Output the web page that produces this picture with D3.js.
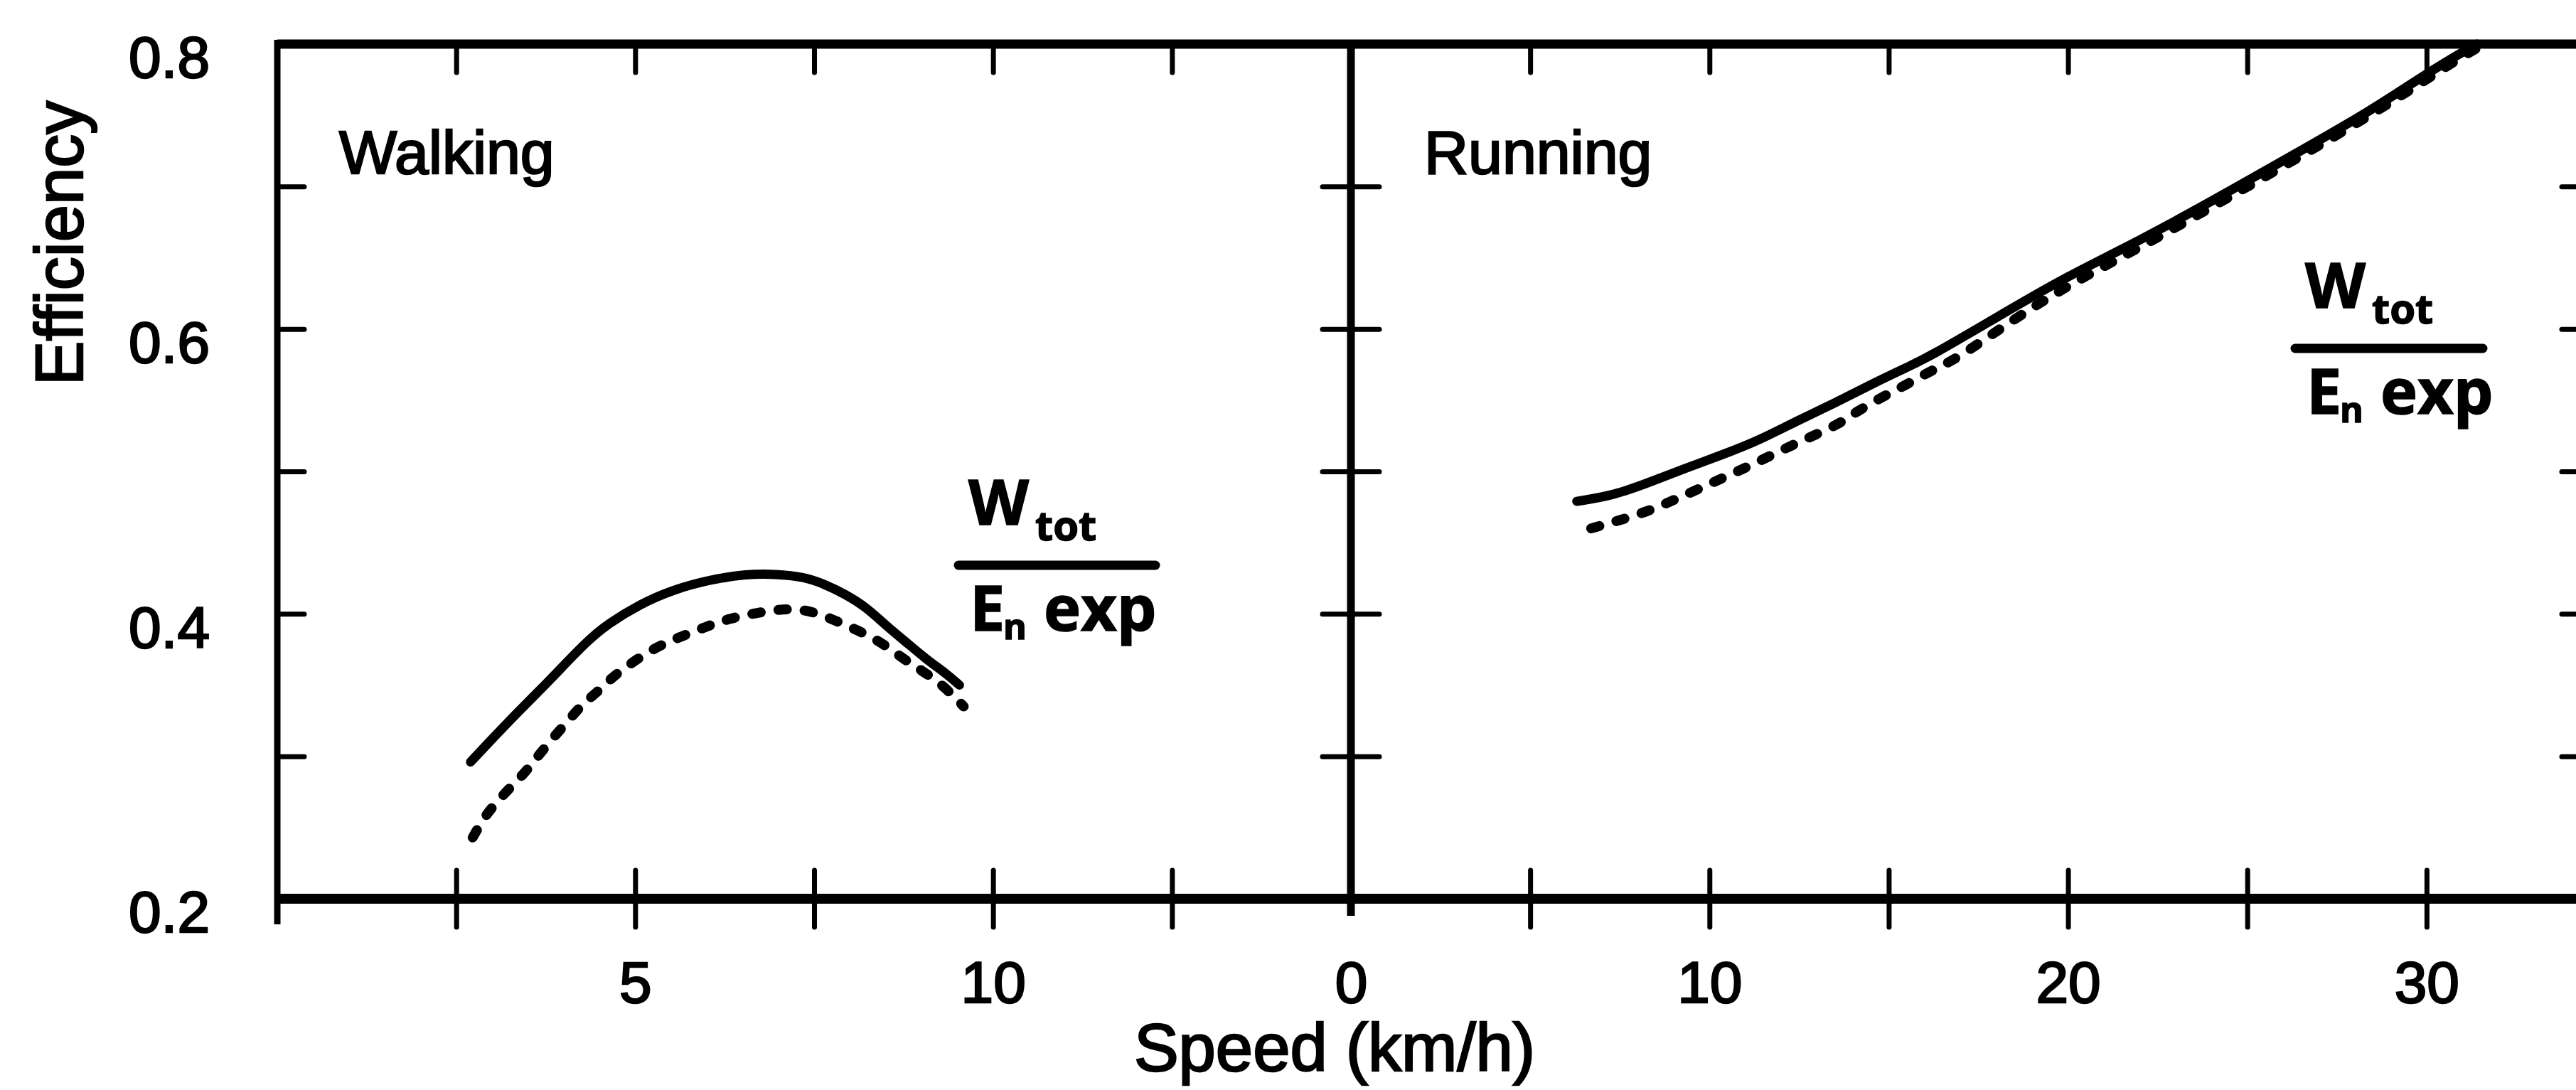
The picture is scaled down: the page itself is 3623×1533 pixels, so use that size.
<!DOCTYPE html>
<html>
<head>
<meta charset="utf-8">
<script src="https://cdn.jsdelivr.net/npm/d3@7"></script>
<style>
  html, body { margin: 0; padding: 0; background: #fff; }
  svg { display: block; }
  .lbl { font-family: "Liberation Sans", Arial, Helvetica, sans-serif; fill: #000; stroke: #000; stroke-width: 2.5; }
  .frac { font-family: "Open Sans", "DejaVu Sans", sans-serif; font-weight: 700; fill: #000; stroke: #000; stroke-width: 1.5; }
</style>
</head>
<body>
<svg id="chart" width="3623" height="1533"></svg>
<script>
// ---- Walking: efficiency vs speed (km/h) ----
const walkSpeedSolid = [2.70, 2.96, 3.36, 3.70, 3.93, 4.33, 4.62, 5.07, 5.53, 6.04, 6.56, 6.96, 7.36, 7.64, 7.93, 8.22, 8.50, 8.79, 9.07, 9.35, 9.53];
const walkEffSolid   = [0.296, 0.310, 0.331, 0.348, 0.360, 0.381, 0.393, 0.407, 0.417, 0.424, 0.428, 0.428, 0.426, 0.421, 0.414, 0.405, 0.392, 0.380, 0.368, 0.358, 0.350];

const walkSpeedDashed = [2.73, 2.90, 3.07, 3.27, 3.47, 3.64, 3.87, 4.10, 4.27, 4.47, 4.67, 4.90, 5.30, 5.64, 5.99, 6.33, 6.73, 7.13, 7.47, 7.81, 8.13, 8.44, 8.73, 9.01, 9.30, 9.59];
const walkEffDashed   = [0.243, 0.258, 0.268, 0.279, 0.289, 0.300, 0.314, 0.327, 0.337, 0.345, 0.355, 0.364, 0.377, 0.384, 0.391, 0.397, 0.401, 0.404, 0.402, 0.395, 0.388, 0.380, 0.369, 0.360, 0.350, 0.335];

// ---- Running: efficiency vs speed (km/h) ----
const runSpeedSolid = [6.3, 7.3, 8.3, 9.3, 10.4, 11.4, 12.4, 13.5, 14.5, 15.5, 16.1, 18.2, 19.9, 22.0, 24.1, 26.2, 28.3, 29.8, 30.9, 31.4];
const runEffSolid   = [0.479, 0.483, 0.492, 0.502, 0.512, 0.522, 0.535, 0.548, 0.561, 0.573, 0.580, 0.611, 0.636, 0.662, 0.691, 0.721, 0.751, 0.776, 0.793, 0.800];

const runSpeedDashed = [6.7, 7.4, 8.3, 9.1, 9.9, 10.6, 11.3, 12.1, 12.8, 13.6, 14.1, 14.8, 15.5, 16.2, 16.9, 18.2, 20.0, 22.0, 24.1, 26.2, 28.3, 29.8, 30.9, 31.6];
const runEffDashed   = [0.460, 0.465, 0.472, 0.481, 0.490, 0.498, 0.506, 0.516, 0.524, 0.533, 0.542, 0.552, 0.561, 0.571, 0.579, 0.602, 0.631, 0.657, 0.687, 0.717, 0.748, 0.772, 0.790, 0.800];

// ---- Ticks and labels ----
const walkTicks = [2.5, 5, 7.5, 10, 12.5];
const walkTickLabels = [5, 10];
const runTicks = [0, 5, 10, 15, 20, 25, 30];
const runTickLabels = [0, 10, 20, 30];
const effTicks = [0.3, 0.4, 0.5, 0.6, 0.7];
const effTickLabels = [0.2, 0.4, 0.6, 0.8];
const panelTitles = ["Walking", "Running"];
const xTitle = "Speed (km/h)";
const yTitle = "Efficiency";

const W = 3623, H = 1533;
const svg = d3.select("#chart");
svg.append("rect").attr("width", W).attr("height", H).attr("fill", "#fff");

const y = d3.scaleLinear().domain([0.2, 0.8]).range([1264, 62]);
const xWalk = d3.scaleLinear().domain([0, 15]).range([390, 1900]);
const xRun = d3.scaleLinear().domain([0, 35]).range([1900, 3665]);
const yTop = y(0.8), yBot = y(0.2);

function clean(g) {
  g.attr("font-size", null).attr("font-family", null);
  g.select(".domain").remove();
  g.selectAll(".tick line").attr("stroke", "#000").attr("stroke-width", 7).attr("stroke-linecap", "round");
  return g;
}

// ---- frame lines ----
svg.append("line").attr("x1", xWalk(0)).attr("x2", W).attr("y1", yTop).attr("y2", yTop)
  .attr("stroke", "#000").attr("stroke-width", 13);
svg.append("line").attr("x1", xWalk(0)).attr("x2", W).attr("y1", yBot).attr("y2", yBot)
  .attr("stroke", "#000").attr("stroke-width", 14);
svg.append("line").attr("x1", xWalk(0)).attr("x2", xWalk(0)).attr("y1", yTop - 6).attr("y2", yBot + 36)
  .attr("stroke", "#000").attr("stroke-width", 9);
svg.append("line").attr("x1", xRun(0)).attr("x2", xRun(0)).attr("y1", yTop).attr("y2", yBot + 24)
  .attr("stroke", "#000").attr("stroke-width", 11);

// ---- bottom axes (crossing ticks + labels) ----
const lblSize = 82;
const gWB = svg.append("g").attr("transform", `translate(0,${yBot})`)
  .call(d3.axisBottom(xWalk).tickValues(walkTicks).tickSize(40).tickSizeOuter(0)
    .tickFormat(d => walkTickLabels.includes(d) ? d3.format("d")(d) : ""));
clean(gWB);
gWB.selectAll(".tick line").attr("y1", -40);
gWB.selectAll(".tick text").attr("class", "lbl").attr("y", 146).attr("dy", null).attr("font-size", lblSize);

const gRB = svg.append("g").attr("transform", `translate(0,${yBot})`)
  .call(d3.axisBottom(xRun).tickValues(runTicks).tickSize(40).tickSizeOuter(0)
    .tickFormat(d => runTickLabels.includes(d) ? d3.format("d")(d) : ""));
clean(gRB);
gRB.selectAll(".tick line").attr("y1", -40).filter(d => d === 0).remove();
gRB.selectAll(".tick text").attr("class", "lbl").attr("y", 146).attr("dy", null).attr("font-size", lblSize);

// ---- top ticks (pointing down) ----
const gWT = svg.append("g").attr("transform", `translate(0,${yTop})`)
  .call(d3.axisBottom(xWalk).tickValues(walkTicks).tickSize(40).tickSizeOuter(0).tickFormat(""));
clean(gWT);
const gRT = svg.append("g").attr("transform", `translate(0,${yTop})`)
  .call(d3.axisBottom(xRun).tickValues(runTicks.filter(d => d > 0)).tickSize(40).tickSizeOuter(0).tickFormat(""));
clean(gRT);

// ---- left axis ticks and labels ----
const gLT = svg.append("g").attr("transform", `translate(${xWalk(0)},0)`)
  .call(d3.axisRight(y).tickValues(effTicks).tickSize(38).tickSizeOuter(0).tickFormat(""));
clean(gLT);
const gLL = svg.append("g").attr("transform", `translate(${xWalk(0)},0)`)
  .call(d3.axisLeft(y).tickValues(effTickLabels).tickSize(0).tickPadding(95).tickFormat(d3.format(".1f")));
clean(gLL);
gLL.selectAll(".tick text").attr("class", "lbl").attr("font-size", lblSize).attr("dy", "0.57em");

// ---- divider ticks (crossing) ----
const gDT = svg.append("g").attr("transform", `translate(${xRun(0)},0)`)
  .call(d3.axisRight(y).tickValues(effTicks).tickSize(40).tickSizeOuter(0).tickFormat(""));
clean(gDT);
gDT.selectAll(".tick line").attr("x1", -40);

// ---- right frame ticks ----
const gRR = svg.append("g").attr("transform", `translate(${xRun(35)},0)`)
  .call(d3.axisLeft(y).tickValues(effTicks).tickSize(62).tickSizeOuter(0).tickFormat(""));
clean(gRR);

// ---- curves ----
const zip = (xs, ys) => xs.map((v, i) => [v, ys[i]]);
function drawCurve(xs, ys, xScale, dashed) {
  const line = d3.line().x(d => xScale(d[0])).y(d => y(d[1])).curve(d3.curveBasis);
  const p = svg.append("path").datum(zip(xs, ys)).attr("d", line)
    .attr("fill", "none").attr("stroke", "#000").attr("stroke-width", 13)
    .attr("stroke-linecap", "round").attr("stroke-linejoin", "round");
  if (dashed) p.attr("stroke-dasharray", "12,25").attr("stroke-width", 14);
}
drawCurve(walkSpeedSolid, walkEffSolid, xWalk, false);
drawCurve(walkSpeedDashed, walkEffDashed, xWalk, true);
drawCurve(runSpeedSolid, runEffSolid, xRun, false);
drawCurve(runSpeedDashed, runEffDashed, xRun, true);

// ---- panel titles ----
svg.append("text").attr("class", "lbl").attr("x", 477).attr("y", 244).attr("font-size", 86).text(panelTitles[0]);
svg.append("text").attr("class", "lbl").attr("x", 2003).attr("y", 244).attr("font-size", 86).text(panelTitles[1]);

// ---- axis titles ----
svg.append("text").attr("class", "lbl").attr("x", 1877).attr("y", 1506).attr("font-size", 94)
  .attr("text-anchor", "middle").text(xTitle);
svg.append("text").attr("class", "lbl").attr("transform", "translate(116,342) rotate(-90)")
  .attr("font-size", 94).attr("text-anchor", "middle").text(yTitle);

// ---- ratio annotation: W_tot / E_n exp ----
function drawFraction(x0, yLine, len) {
  const g = svg.append("g");
  g.append("text").attr("class", "frac").attr("x", x0 + 14).attr("y", yLine - 57).attr("font-size", 88).text("W");
  g.append("text").attr("class", "frac").attr("x", x0 + 108).attr("y", yLine - 35).attr("font-size", 58).text("tot");
  g.append("line").attr("x1", x0).attr("x2", x0 + len).attr("y1", yLine).attr("y2", yLine)
    .attr("stroke", "#000").attr("stroke-width", 13).attr("stroke-linecap", "round");
  g.append("text").attr("class", "frac").attr("x", x0 + 16).attr("y", yLine + 92).attr("font-size", 88).text("E");
  g.append("text").attr("class", "frac").attr("x", x0 + 63).attr("y", yLine + 104).attr("font-size", 50).text("n");
  g.append("text").attr("class", "frac").attr("x", x0 + 120).attr("y", yLine + 92).attr("font-size", 88).text("exp");
}
drawFraction(1348, 795, 277);
drawFraction(3228, 490, 264);
</script>
</body>
</html>
